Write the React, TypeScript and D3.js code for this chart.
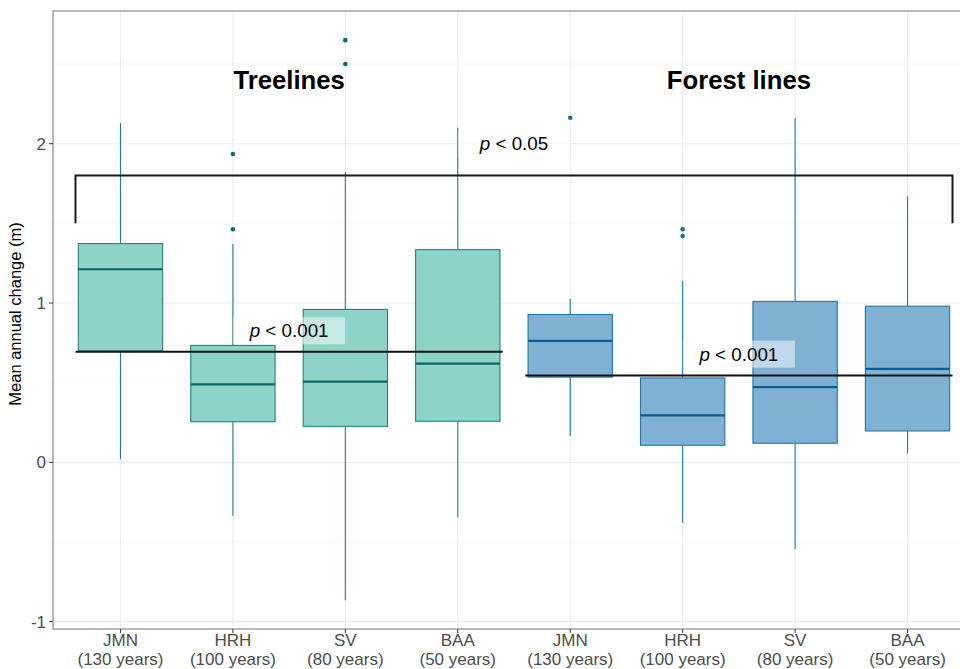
import React from 'react';
import * as d3 from 'd3';

// categories along the x axis (two groups of four sites)
const sites = ['JMN', 'HRH', 'SV', 'BAA', 'JMN', 'HRH', 'SV', 'BAA'];
const ages = ['(130 years)', '(100 years)', '(80 years)', '(50 years)', '(130 years)', '(100 years)', '(80 years)', '(50 years)'];
const groups = ['tree', 'tree', 'tree', 'tree', 'forest', 'forest', 'forest', 'forest'];

// box statistics
const whiskerLow = [0.02, -0.335, -0.865, -0.345, 0.165, -0.38, -0.545, 0.055];
const q1 = [0.7, 0.255, 0.226, 0.258, 0.535, 0.107, 0.12, 0.197];
const median = [1.212, 0.489, 0.507, 0.62, 0.763, 0.295, 0.472, 0.587];
const q3 = [1.373, 0.734, 0.96, 1.335, 0.928, 0.53, 1.01, 0.98];
const whiskerHigh = [2.13, 1.37, 1.82, 2.1, 1.026, 1.14, 2.16, 1.67];
const outliers = [[], [1.935, 1.463], [2.65, 2.5], [], [2.163], [1.463, 1.42], [], []];

// group means and comparisons
const meanLines = [
  { from: 0.6, to: 4.4, value: 0.694 },
  { from: 4.6, to: 8.4, value: 0.545 },
];
const bracket = { from: 0.6, to: 8.4, top: 1.8, bottom: 1.5 };
const pLabels = [
  { x: 4.5, y: 2.0, text: '0.05' },
  { x: 2.5, y: 0.826, text: '0.001' },
  { x: 6.5, y: 0.679, text: '0.001' },
];
const titles = [
  { x: 2.5, y: 2.4, text: 'Treelines' },
  { x: 6.5, y: 2.4, text: 'Forest lines' },
];
const yMajor = [-1, 0, 1, 2];
const yMinor = [-0.5, 0.5, 1.5, 2.5];

const colors = {
  tree: { fill: '#8DD3C7', stroke: '#23807D', median: '#0A6664', point: '#006D6B' },
  forest: { fill: '#80B1D3', stroke: '#1F77AA', median: '#0B5E92', point: '#1F6FA3' },
};

const W = 960;
const H = 669;
const left = 53;
const top = 11;
const bottom = 629;
const right = 975;
const font = '"Liberation Sans", Arial, sans-serif';

export default function App() {
  const x = d3.scaleLinear().domain([0.4, 8.6]).range([left, right]);
  const y = d3.scaleLinear().domain([-1.046, 2.833]).range([bottom, top]);
  const step = x(2) - x(1);
  const boxW = step * 0.75;

  return (
    <svg width={W} height={H} style={{ position: 'absolute', left: 0, top: 0, background: '#fff' }} fontFamily={font}>
      <rect x={0} y={0} width={W} height={H} fill="#fff" />
      {/* grid */}
      {yMinor.map((v) => (
        <line key={'mn' + v} x1={left} x2={right} y1={y(v)} y2={y(v)} stroke="#F3F3F3" strokeWidth={0.8} />
      ))}
      {yMajor.map((v) => (
        <line key={'mj' + v} x1={left} x2={right} y1={y(v)} y2={y(v)} stroke="#EBEBEB" strokeWidth={1.1} />
      ))}
      {sites.map((s, i) => (
        <line key={'vx' + i} x1={x(i + 1)} x2={x(i + 1)} y1={top} y2={bottom} stroke="#EBEBEB" strokeWidth={1.1} />
      ))}

      {/* boxes */}
      {sites.map((s, i) => {
        const c = colors[groups[i] as 'tree' | 'forest'];
        const cx = x(i + 1);
        return (
          <g key={'box' + i}>
            <line x1={cx} x2={cx} y1={y(q3[i])} y2={y(whiskerHigh[i])} stroke={c.stroke} strokeWidth={1.1} />
            <line x1={cx} x2={cx} y1={y(q1[i])} y2={y(whiskerLow[i])} stroke={c.stroke} strokeWidth={1.1} />
            <rect x={cx - boxW / 2} y={y(q3[i])} width={boxW} height={y(q1[i]) - y(q3[i])} fill={c.fill} stroke={c.stroke} strokeWidth={1.1} />
            <line x1={cx - boxW / 2} x2={cx + boxW / 2} y1={y(median[i])} y2={y(median[i])} stroke={c.median} strokeWidth={2.2} />
            {outliers[i].map((o, k) => (
              <circle key={k} cx={cx} cy={y(o)} r={2.3} fill={c.point} />
            ))}
          </g>
        );
      })}

      {/* mean lines and bracket */}
      {meanLines.map((m, i) => (
        <line key={'mean' + i} x1={x(m.from)} x2={x(m.to)} y1={y(m.value)} y2={y(m.value)} stroke="#111" strokeWidth={2} />
      ))}
      <path
        d={`M${x(bracket.from)},${y(bracket.bottom)}V${y(bracket.top)}H${x(bracket.to)}V${y(bracket.bottom)}`}
        fill="none"
        stroke="#1a1a1a"
        strokeWidth={2}
      />

      {/* p-value labels */}
      {pLabels.map((p, i) => (
        <g key={'p' + i}>
          <rect x={x(p.x) - 56} y={y(p.y) - 13.5} width={112} height={27} fill="#fff" fillOpacity={0.5} />
          <text x={x(p.x)} y={y(p.y) + 6.5} textAnchor="middle" fontSize={18.8} fill="#000">
            <tspan fontStyle="italic">p</tspan>
            <tspan>{'\u00a0<\u00a0' + p.text}</tspan>
          </text>
        </g>
      ))}

      {titles.map((t, i) => (
        <text key={'t' + i} x={x(t.x)} y={y(t.y) + 9} textAnchor="middle" fontSize={25.7} fontWeight="bold" fill="#000">
          {t.text}
        </text>
      ))}

      {/* panel border */}
      <rect x={left} y={top} width={right - left} height={bottom - top} fill="none" stroke="#8a8a8a" strokeWidth={1.2} />

      {/* y axis */}
      {yMajor.map((v) => (
        <g key={'yt' + v}>
          <line x1={left - 4} x2={left} y1={y(v)} y2={y(v)} stroke="#333" strokeWidth={1} />
          <text x={left - 7} y={y(v) + 6} textAnchor="end" fontSize={17} fill="#4D4D4D">
            {v}
          </text>
        </g>
      ))}
      <text transform={`translate(21,${(top + bottom) / 2 - 6}) rotate(-90)`} textAnchor="middle" fontSize={16.5} fill="#000">
        Mean annual change (m)
      </text>

      {/* x axis */}
      {sites.map((s, i) => (
        <g key={'xt' + i}>
          <line x1={x(i + 1)} x2={x(i + 1)} y1={bottom} y2={bottom + 4} stroke="#333" strokeWidth={1} />
          <text x={x(i + 1)} y={646} textAnchor="middle" fontSize={17} fill="#4D4D4D">
            {s}
          </text>
          <text x={x(i + 1)} y={664.5} textAnchor="middle" fontSize={17} fill="#4D4D4D">
            {ages[i]}
          </text>
        </g>
      ))}
    </svg>
  );
}
